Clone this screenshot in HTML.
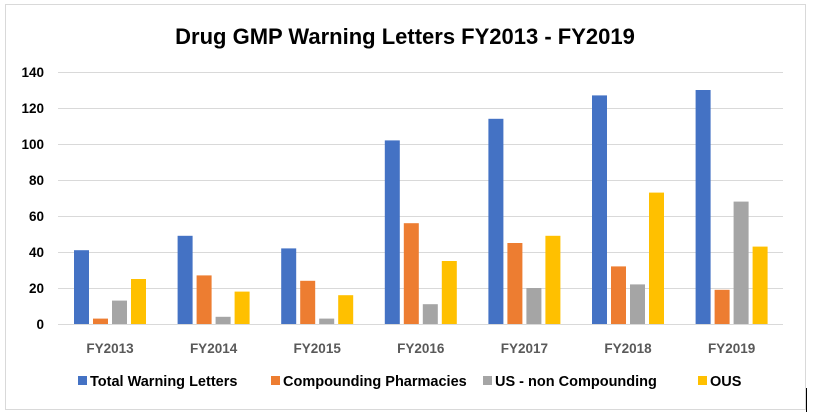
<!DOCTYPE html>
<html><head><style>body{margin:0;background:#fff}svg{display:block}text{font-family:"Liberation Sans",Arial,sans-serif;font-weight:bold}</style></head>
<body>
<svg width="813" height="416" xmlns="http://www.w3.org/2000/svg">
<rect x="0" y="0" width="813" height="416" fill="#fff"/>
<rect x="5.5" y="4.5" width="800" height="405" fill="none" stroke="#d9d9d9"/>
<line x1="806.5" y1="388" x2="806.5" y2="412" stroke="#000"/>
<text x="405" y="44" font-size="22" text-anchor="middle" fill="#000">Drug GMP Warning Letters FY2013 - FY2019</text>
<g stroke="#d9d9d9" stroke-width="1">
<line x1="58" x2="783" y1="72.5" y2="72.5"/><line x1="58" x2="783" y1="108.5" y2="108.5"/>
<line x1="58" x2="783" y1="144.5" y2="144.5"/><line x1="58" x2="783" y1="180.5" y2="180.5"/>
<line x1="58" x2="783" y1="216.5" y2="216.5"/><line x1="58" x2="783" y1="252.5" y2="252.5"/>
<line x1="58" x2="783" y1="288.5" y2="288.5"/><line x1="58" x2="783" y1="324.5" y2="324.5"/>
</g>
<g font-size="13.5" fill="#000" text-anchor="end">
<text x="44" y="77">140</text><text x="44" y="113">120</text><text x="44" y="149">100</text>
<text x="44" y="185">80</text><text x="44" y="221">60</text><text x="44" y="257">40</text>
<text x="44" y="293">20</text><text x="44" y="329">0</text>
</g>
<g id="bars"></g>
<g font-size="13.5" fill="#595959" text-anchor="middle" id="cats"></g>
<g font-size="14.5" fill="#000">
<rect x="78" y="376" width="9" height="9" fill="#4472c4"/><text x="90" y="386">Total Warning Letters</text>
<rect x="271" y="376" width="9" height="9" fill="#ed7d31"/><text x="283" y="386">Compounding Pharmacies</text>
<rect x="483" y="376" width="9" height="9" fill="#a5a5a5"/><text x="495" y="386">US - non Compounding</text>
<rect x="698" y="376" width="9" height="9" fill="#ffc000"/><text x="710" y="386">OUS</text>
</g>
<script>
var d=[["FY2013",41,3,13,25],["FY2014",49,27,4,18],["FY2015",42,24,3,16],["FY2016",102,56,11,35],["FY2017",114,45,20,49],["FY2018",127,32,22,73],["FY2019",130,19,68,43]];
var c=["#4472c4","#ed7d31","#a5a5a5","#ffc000"],ns="http://www.w3.org/2000/svg",b=document.getElementById("bars"),t=document.getElementById("cats");
d.forEach(function(r,i){var cx=110+i*103.6;for(var k=0;k<4;k++){var h=r[k+1]*1.8,e=document.createElementNS(ns,"rect");e.setAttribute("x",cx-36+k*19);e.setAttribute("width",15);e.setAttribute("y",324-h);e.setAttribute("height",h);e.setAttribute("fill",c[k]);b.appendChild(e);}
var x=document.createElementNS(ns,"text");x.setAttribute("x",cx);x.setAttribute("y",353);x.textContent=r[0];t.appendChild(x);});
</script>
</svg>
</body></html>
